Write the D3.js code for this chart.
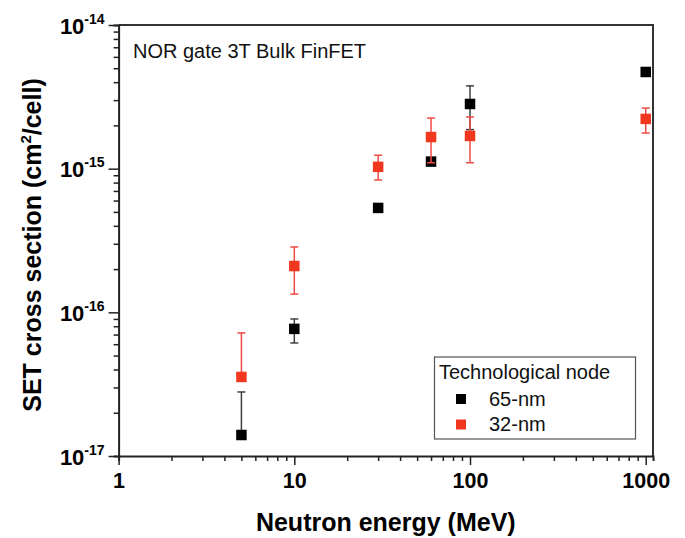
<!DOCTYPE html>
<html><head><meta charset="utf-8">
<script src="https://cdn.jsdelivr.net/npm/d3@7"></script>
<style>body{margin:0;background:#fff}svg{display:block}</style>
</head><body>
<script>
// Data
const energies = [5, 10, 30, 60, 100, 1000];
const seriesNames = ["65-nm", "32-nm"];
const sigma65 = [1.40e-17, 7.67e-17, 5.33e-16, 1.12e-15, 2.82e-15, 4.71e-15];
const lo65    = [null, 6.12e-17, null, null, 1.87e-15, null];
const hi65    = [2.79e-17, 8.99e-17, null, null, 3.77e-15, null];
const sigma32 = [3.55e-17, 2.10e-16, 1.03e-15, 1.66e-15, 1.69e-15, 2.22e-15];
const lo32    = [null, 1.34e-16, 8.34e-16, 1.10e-15, 1.10e-15, 1.77e-15];
const hi32    = [7.19e-17, 2.85e-16, 1.24e-15, 2.25e-15, 2.29e-15, 2.64e-15];
const xTicks = [1, 10, 100, 1000];
const yTickExps = [-17, -16, -15, -14];
const annotation = "NOR gate 3T Bulk FinFET";
const legendTitle = "Technological node";
const xTitle = "Neutron energy (MeV)";

const W = 685, H = 538;
const L = 118.6, R = 653, T = 25, B = 456;
const font = "'Liberation Sans', Arial, sans-serif";
const colors = ["#000000", "#f2371f"];
const errColors = ["#404040", "#f04a44"];

const svg = d3.select("body").append("svg").attr("width", W).attr("height", H);
const x = d3.scaleLog().domain([1, 1100]).range([L, R]);
const y = d3.scaleLog().domain([1e-17, 1e-14]).range([B, T]);

// frame (top and right)
svg.append("path").attr("d", `M${L},${T}H${R}V${B}`).attr("fill","none").attr("stroke","#333").attr("stroke-width",2);

// x axis
const xMinor = [];
for (let d = 1; d <= 1000; d *= 10) for (let k = 1; k <= 9; k++) { const v = d*k; if (v <= 1100) xMinor.push(v); }
const xAxis = d3.axisBottom(x).tickValues(xMinor).tickSize(5).tickFormat("");
const gx = svg.append("g").attr("transform", `translate(0,${B})`).call(xAxis);
gx.selectAll("line").attr("stroke","#222").attr("stroke-width",1.5);
gx.select(".domain").attr("stroke","#222").attr("stroke-width",2);
gx.selectAll(".tick").filter(d => xTicks.includes(d)).select("line").attr("y2", 9);
gx.selectAll(".tick").filter(d => xTicks.includes(d)).append("text")
  .attr("y", 32).attr("text-anchor","middle").attr("fill","#000")
  .style("font-family", font).style("font-weight","bold").style("font-size","21.5px")
  .text(d => d);

// y axis
const yMinor = [];
yTickExps.forEach(e => { if (e < -14) for (let k = 1; k <= 9; k++) yMinor.push(k * Math.pow(10, e)); });
yMinor.push(1e-14);
const yAxis = d3.axisLeft(y).tickValues(yMinor).tickSize(5).tickFormat("");
const gy = svg.append("g").attr("transform", `translate(${L},0)`).call(yAxis);
gy.selectAll("line").attr("stroke","#222").attr("stroke-width",1.5);
gy.select(".domain").attr("stroke","#222").attr("stroke-width",2);
const isMajorY = d => Math.abs(Math.log10(d) - Math.round(Math.log10(d))) < 1e-9;
gy.selectAll(".tick").filter(isMajorY).select("line").attr("x2", -10);
const yl = gy.selectAll(".tick").filter(isMajorY).append("text")
  .attr("x", -14).attr("y", 8).attr("text-anchor","end").attr("fill","#000")
  .style("font-family", font).style("font-weight","bold").style("font-size","22px");
yl.append("tspan").text("10");
yl.append("tspan").attr("dy", -10).style("font-size","14px").text(d => String(Math.round(Math.log10(d))));

// axis titles
svg.append("text").attr("x", (L + R)/2).attr("y", 531).attr("text-anchor","middle")
  .style("font-family", font).style("font-weight","bold").style("font-size","25px").text(xTitle);
const yt = svg.append("text").attr("transform", `translate(41,245) rotate(-90)`).attr("text-anchor","middle")
  .style("font-family", font).style("font-weight","bold").style("font-size","25px");
yt.append("tspan").text("SET cross section (cm");
yt.append("tspan").attr("dy", -10).style("font-size","15px").text("2");
yt.append("tspan").attr("dy", 10).text("/cell)");

// annotation
svg.append("text").attr("x", 133).attr("y", 58).style("font-family", font).style("font-size","20px").attr("fill","#111").text(annotation);

// data series
const series = [
  {name: seriesNames[0], v: sigma65, lo: lo65, hi: hi65},
  {name: seriesNames[1], v: sigma32, lo: lo32, hi: hi32}
];
const cap = 4, ms = 10.5;
series.forEach((s, si) => {
  const g = svg.append("g");
  energies.forEach((e, i) => {
    const cx = x(e), cy = y(s.v[i]);
    const ends = [];
    if (s.hi[i] != null) ends.push(y(s.hi[i]));
    if (s.lo[i] != null) ends.push(y(s.lo[i]));
    ends.forEach(ey => {
      g.append("line").attr("x1", cx).attr("x2", cx).attr("y1", cy).attr("y2", ey).attr("stroke", errColors[si]).attr("stroke-width", 1.5);
      g.append("line").attr("x1", cx - cap).attr("x2", cx + cap).attr("y1", ey).attr("y2", ey).attr("stroke", errColors[si]).attr("stroke-width", 1.5);
    });
  });
  g.selectAll("rect").data(energies).enter().append("rect")
    .attr("x", e => x(e) - ms/2).attr("y", (e, i) => y(s.v[i]) - ms/2)
    .attr("width", ms).attr("height", ms).attr("fill", colors[si]);
});

// legend
const lg = svg.append("g");
lg.append("rect").attr("x", 434.5).attr("y", 357).attr("width", 201).attr("height", 82)
  .attr("fill","#fff").attr("stroke","#555").attr("stroke-width",1.2);
lg.append("text").attr("x", 439).attr("y", 379).style("font-family", font).style("font-size","20px").attr("fill","#111").text(legendTitle);
seriesNames.forEach((n, i) => {
  const yy = 399 + i * 25.5;
  lg.append("rect").attr("x", 456).attr("y", yy - 5).attr("width", 10).attr("height", 10).attr("fill", colors[i]);
  lg.append("text").attr("x", 489).attr("y", yy + 6.5).style("font-family", font).style("font-size","20px").attr("fill","#111").text(n);
});
</script>
</body></html>
